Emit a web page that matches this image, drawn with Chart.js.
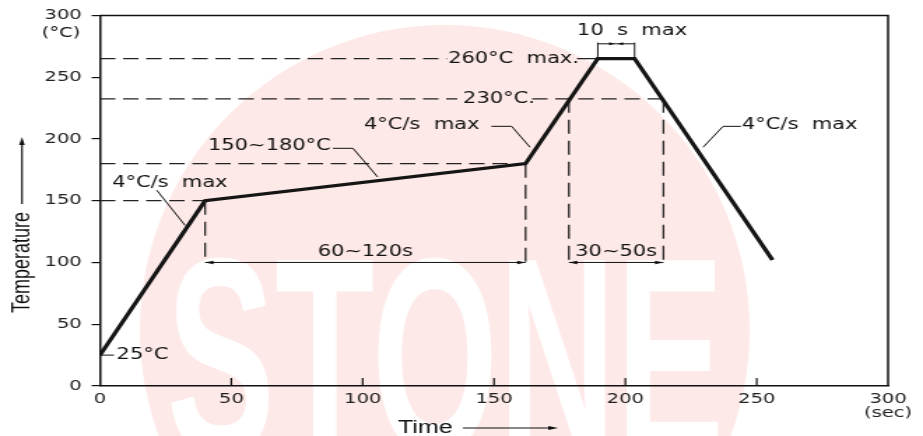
<!DOCTYPE html>
<html>
<head>
<meta charset="utf-8">
<script src="https://cdn.jsdelivr.net/npm/chart.js@4/dist/chart.umd.min.js"></script>
<style>
  html, body { margin: 0; padding: 0; background: #fff; overflow: hidden; }
  #wrap { position: absolute; left: 0; top: 0; width: 660px; height: 436px;
          transform: scaleX(1.3985); transform-origin: 0 0; }
</style>
</head>
<body>
<div id="wrap"><canvas id="c"></canvas></div>
<script>
// ---- data (time in s, temperature in °C) ----
const profileTime = [0, 40, 162, 189.5, 203.5, 256];
const profileTemp = [25, 150, 180, 265, 265, 102];

const xTickValues = [0, 50, 100, 150, 200, 250, 300];
const xTickLabels = ['0', '50', '100', '150', '200', '250', ['300', '(sec)']];
const yTickValues = [0, 50, 100, 150, 200, 250, 300];
const yTickLabels = ['0', '50', '100', '150', '200', '250', '300'];

// horizontal dashed guides: [temperature, fromTime, toTime]
const dashH = [[265, 0, 132], [232.5, 0, 136], [232.5, 164.5, 214.5], [180, 0, 162], [150, 0, 40]];
// short solid leader to the peak
const solidH = [[265, 181.6, 189.5]];
// vertical dashed guides: [time, fromTemp, toTemp]
const dashV = [[40, 150, 100], [162, 180, 100], [178.5, 232.5, 100], [214.5, 232.5, 100]];
// dimension spans: [fromTime, toTime, temp, label]
const spanFrom = [40, 178.5];
const spanTo = [162, 214.5];
const spanTemp = [100, 100];
const spanLabels = ['60~120s', '30~50s'];

// annotations: label, anchor (time, temp) of text start, leader polyline
const noteLabels = ['4°C/s  max', '150~180°C', '4°C/s  max', '260°C  max.', '230°C.', '10  s  max', '4°C/s  max', '25°C'];
const noteTime = [4.6, 41.1, 100.5, 132.5, 138.2, 181.6, 244.4, 6.3];
const noteTemp = [164, 194, 211, 265, 232.5, 287, 211, 25];
const noteLeaders = [
  [[21.6, 158.5], [32.4, 130]],
  [[88.7, 192.4], [96.3, 192.4], [105.7, 169.2]],
  [[149, 210.2], [156.7, 210.2], [163.7, 193.3]],
  [],
  [],
  [],
  [[244, 210.2], [237.2, 210.2], [229.6, 193.3]],
  [[0, 25], [5.3, 25]]
];
// "10 s max" bracket
const bracketTimes = [189.5, 203.5];
const bracketTemps = [266, 278, 277];

const datasets = [];
datasets.push({
  data: profileTime.map((t, i) => ({ x: t, y: profileTemp[i] })),
  borderColor: '#151515', borderWidth: 3.2, pointRadius: 0, showLine: true, order: 0,
  borderJoinStyle: 'miter'
});
dashH.forEach(s => datasets.push({
  data: [{ x: s[1], y: s[0] }, { x: s[2], y: s[0] }],
  borderColor: '#222', borderWidth: 1.3, borderDash: [11, 5.5], pointRadius: 0, showLine: true, order: 2
}));
solidH.forEach(s => datasets.push({
  data: [{ x: s[1], y: s[0] }, { x: s[2], y: s[0] }],
  borderColor: '#222', borderWidth: 1.3, pointRadius: 0, showLine: true, order: 2
}));
dashV.forEach(s => datasets.push({
  data: [{ x: s[0], y: s[1] }, { x: s[0], y: s[2] }],
  borderColor: '#222', borderWidth: 1.3, borderDash: [14, 7], pointRadius: 0, showLine: true, order: 2
}));

const FONT = '"DejaVu Sans", sans-serif';

function arrowHead(ctx, x, y, dx, dy, len, half) {
  const n = Math.hypot(dx, dy); const ux = dx / n, uy = dy / n;
  ctx.beginPath();
  ctx.moveTo(x, y);
  ctx.lineTo(x - ux * len - uy * half, y - uy * len + ux * half);
  ctx.lineTo(x - ux * len + uy * half, y - uy * len - ux * half);
  ctx.closePath(); ctx.fill();
}

const watermark = {
  id: 'watermark',
  beforeDraw(chart) {
    const ctx = chart.ctx;
    ctx.save();
    ctx.fillStyle = 'rgb(253,233,231)';
    ctx.beginPath();
    ctx.ellipse(318, 330, 218, 305, 0, 0, Math.PI * 2);
    ctx.fill();
    ctx.fillStyle = '#ffffff';
    ctx.font = 'bold 200px "Liberation Sans", sans-serif';
    ctx.textBaseline = 'alphabetic';
    const w = ctx.measureText('STONE').width;
    ctx.translate(119, 453);
    ctx.scale(399 / w, 1.4);
    ctx.fillText('STONE', 0, 0);
    ctx.restore();
  }
};

const decor = {
  id: 'decor',
  afterDraw(chart) {
    const ctx = chart.ctx;
    const xs = chart.scales.x, ys = chart.scales.y;
    const X = v => xs.getPixelForValue(v), Y = v => ys.getPixelForValue(v);
    const a = chart.chartArea;
    ctx.save();
    ctx.strokeStyle = '#111'; ctx.fillStyle = '#111';
    // top and right frame
    ctx.lineWidth = 1.5;
    ctx.beginPath();
    ctx.moveTo(a.left, a.top); ctx.lineTo(a.right, a.top); ctx.lineTo(a.right, a.bottom);
    ctx.stroke();
    // inward x ticks
    ctx.lineWidth = 1.2;
    xTickValues.forEach(v => {
      if (v === 0 || v === 300) return;
      ctx.beginPath(); ctx.moveTo(X(v), a.bottom); ctx.lineTo(X(v), a.bottom - 8); ctx.stroke();
    });
    // spans with arrows
    ctx.lineWidth = 1;
    ctx.font = '15px ' + FONT; ctx.textBaseline = 'middle'; ctx.textAlign = 'center';
    spanLabels.forEach((lab, i) => {
      const x1 = X(spanFrom[i]), x2 = X(spanTo[i]), y = Y(spanTemp[i]);
      ctx.beginPath(); ctx.moveTo(x1, y); ctx.lineTo(x2, y); ctx.stroke();
      arrowHead(ctx, x1, y, -1, 0, 6, 1.8);
      arrowHead(ctx, x2, y, 1, 0, 6, 1.8);
      ctx.fillText(lab, (x1 + x2) / 2, y - 10);
    });
    // notes
    ctx.textAlign = 'left';
    noteLabels.forEach((lab, i) => {
      ctx.fillText(lab, X(noteTime[i]), Y(noteTemp[i]));
      const pts = noteLeaders[i];
      if (pts.length) {
        ctx.beginPath();
        pts.forEach((p, k) => k ? ctx.lineTo(X(p[0]), Y(p[1])) : ctx.moveTo(X(p[0]), Y(p[1])));
        ctx.stroke();
      }
    });
    // 10 s bracket
    const bx1 = X(bracketTimes[0]), bx2 = X(bracketTimes[1]);
    ctx.beginPath();
    ctx.moveTo(bx1, Y(bracketTemps[0])); ctx.lineTo(bx1, Y(bracketTemps[1]));
    ctx.moveTo(bx2, Y(bracketTemps[0])); ctx.lineTo(bx2, Y(bracketTemps[1]));
    ctx.moveTo(bx1, Y(bracketTemps[2])); ctx.lineTo(bx2, Y(bracketTemps[2]));
    ctx.stroke();
    arrowHead(ctx, (bx1 + bx2) / 2 - 1, Y(bracketTemps[2]), 1, 0, 4, 1.5);
    arrowHead(ctx, (bx1 + bx2) / 2 + 1, Y(bracketTemps[2]), -1, 0, 4, 1.5);
    // unit under the 300 on y
    ctx.font = '14px ' + FONT; ctx.textAlign = 'right';
    ctx.fillText('(°C)', a.left - 14, Y(300) + 18);
    // axis titles
    ctx.font = '18px "Liberation Sans", sans-serif';
    ctx.textAlign = 'left';
    ctx.fillText('Time', 284.5, 428);
    ctx.lineWidth = 1.2;
    ctx.beginPath(); ctx.moveTo(331, 428); ctx.lineTo(396, 428); ctx.stroke();
    arrowHead(ctx, 399, 428, 1, 0, 7, 2);
    ctx.save();
    ctx.translate(15.7, 313); ctx.rotate(-Math.PI / 2);
    ctx.fillText('Temperature', 0, 0);
    ctx.restore();
    ctx.beginPath(); ctx.moveTo(15.7, 204); ctx.lineTo(15.7, 143); ctx.stroke();
    arrowHead(ctx, 15.7, 137, 0, -1, 8, 2);
    ctx.restore();
  }
};

new Chart(document.getElementById('c'), {
  type: 'scatter',
  data: { datasets },
  options: {
    responsive: true, maintainAspectRatio: false, animation: false,
    layout: { padding: { top: 15, right: 25, left: 0, bottom: 0 } },
    plugins: { legend: { display: false }, tooltip: { enabled: false } },
    scales: {
      x: {
        type: 'linear', min: 0, max: 300,
        afterFit(s) { s.height = 50; },
        afterBuildTicks(s) { s.ticks = xTickValues.map(v => ({ value: v })); },
        ticks: {
          padding: 6, color: '#222', maxRotation: 0, autoSkip: false,
          font: { family: FONT, size: 14, lineHeight: 1.0 },
          callback: v => xTickLabels[xTickValues.indexOf(v)]
        },
        grid: { drawOnChartArea: false, drawTicks: false },
        border: { display: true, color: '#111', width: 1.5 }
      },
      y: {
        type: 'linear', min: 0, max: 300,
        afterFit(s) { s.width = 71.5; },
        afterBuildTicks(s) { s.ticks = yTickValues.map(v => ({ value: v })); },
        ticks: {
          padding: 7, color: '#222', autoSkip: false,
          font: { family: FONT, size: 14 },
          callback: v => yTickLabels[yTickValues.indexOf(v)]
        },
        grid: { drawOnChartArea: false, drawTicks: true, tickLength: 6, color: '#111', lineWidth: 1.2 },
        border: { display: true, color: '#111', width: 1.5 }
      }
    }
  },
  plugins: [watermark, decor]
});
</script>
</body>
</html>
